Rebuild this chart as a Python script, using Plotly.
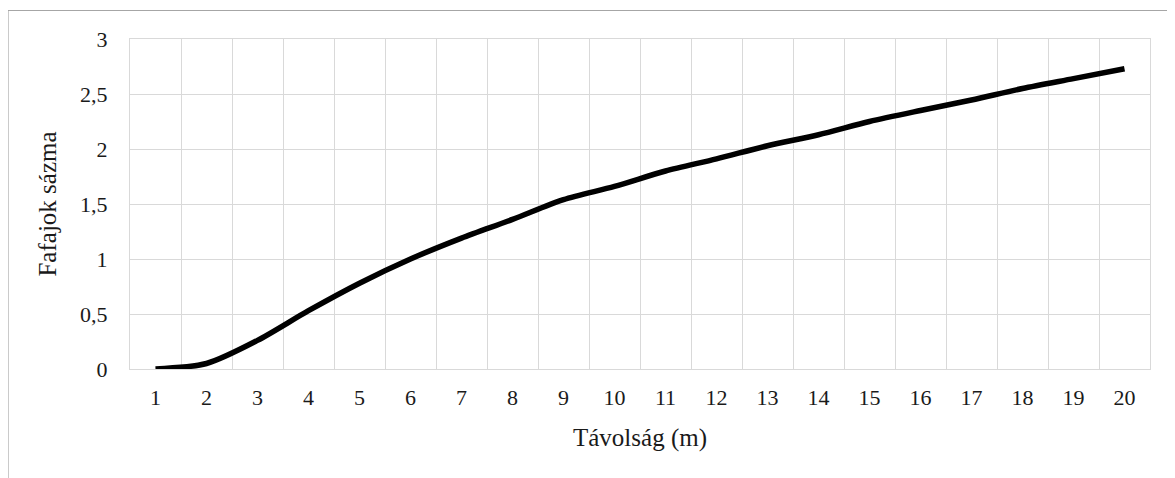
import plotly.graph_objects as go

distance = [str(i) for i in range(1, 21)]
species = [0, 0.05, 0.26, 0.53, 0.78, 1.0, 1.19, 1.36, 1.54, 1.66,
           1.80, 1.91, 2.03, 2.13, 2.25, 2.35, 2.445, 2.55, 2.64, 2.73]
ytick_vals = [0, 0.5, 1, 1.5, 2, 2.5, 3]
ytick_text = ["0", "0,5", "1", "1,5", "2", "2,5", "3"]

FONT = "Liberation Serif, Times New Roman, serif"
GRID = "#d9d9d9"
TXT = "#1a1a1a"

# page body has an 8px default margin, so the figure is sized/placed accordingly
W, H = 1167, 470
L, T, PW, PH = 122, 31, 1020, 330

fig = go.Figure()
fig.add_trace(go.Scatter(
    x=distance, y=species, mode="lines",
    line=dict(color="black", width=5.5, shape="spline", smoothing=0.8),
    showlegend=False, hoverinfo="x+y",
))

fx = lambda px: (px - L) / PW
fy = lambda py: (T + PH - py) / PH

fig.update_layout(
    width=W, height=H,
    margin=dict(l=L, r=W - L - PW, t=T, b=H - T - PH),
    paper_bgcolor="white", plot_bgcolor="white",
    font=dict(family=FONT, color=TXT, size=22),
    xaxis=dict(
        type="category", tickson="boundaries", range=[-0.5, 19.5],
        showgrid=True, gridcolor=GRID, gridwidth=1,
        showline=True, linecolor=GRID, linewidth=1, mirror=True,
        ticks="", ticklabelstandoff=9,
        tickfont=dict(size=22, family=FONT, color=TXT),
        title=dict(text="Távolság (m)", font=dict(size=25, family=FONT, color=TXT), standoff=19),
        zeroline=False,
    ),
    yaxis=dict(
        range=[0, 3], tickvals=ytick_vals, ticktext=ytick_text,
        showgrid=True, gridcolor=GRID, gridwidth=1,
        showline=True, linecolor=GRID, linewidth=1, mirror=True,
        ticks="outside", ticklen=17, tickcolor="rgba(0,0,0,0)",
        tickfont=dict(size=22, family=FONT, color=TXT),
        title=dict(text="Fafajok sázma", font=dict(size=25, family=FONT, color=TXT), standoff=16),
        zeroline=False,
    ),
    shapes=[
        dict(type="line", xref="paper", yref="paper",
             x0=fx(0), x1=fx(W + 10), y0=fy(2.5), y1=fy(2.5),
             line=dict(color="#a6a6a6", width=1.2)),
        dict(type="line", xref="paper", yref="paper",
             x0=fx(0), x1=fx(0), y0=fy(2.5), y1=fy(H + 10),
             line=dict(color="#a6a6a6", width=1.2)),
    ],
)

fig.write_html("out.html")
